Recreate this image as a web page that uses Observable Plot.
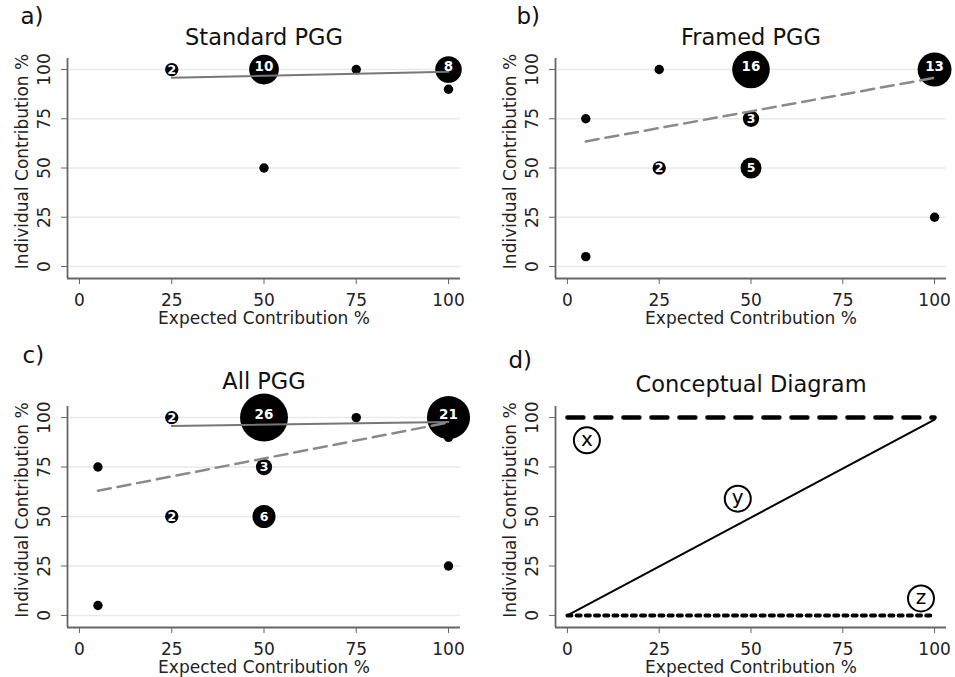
<!DOCTYPE html>
<html>
<head>
<meta charset="utf-8">
<script src="https://cdn.jsdelivr.net/npm/d3@7"></script>
<script src="https://cdn.jsdelivr.net/npm/@observablehq/plot@0.6"></script>
<style>
  html, body { margin: 0; padding: 0; background: #fff; }
  #wrap { position: relative; width: 955px; height: 677px; }
  #wrap > div { position: absolute; }
</style>
</head>
<body>
<div id="wrap">
  <div id="pa" style="left:0px;top:0px"></div>
  <div id="pb" style="left:478px;top:0px"></div>
  <div id="pc" style="left:0px;top:338px"></div>
  <div id="pd" style="left:478px;top:338px"></div>
</div>
<script>
// ---- data ----
const xTicks = [0, 25, 50, 75, 100];
const yTicks = [0, 25, 50, 75, 100];
const xLabel = "Expected Contribution %";
const yLabel = "Individual Contribution %";

// a) Standard PGG
const stdX = [25, 50, 75, 100, 100, 50];
const stdY = [100, 100, 100, 100, 90, 50];
const stdN = [2, 10, 1, 8, 1, 1];
const stdFitX = [25, 100];
const stdFitY = [95.8, 98.9];

// b) Framed PGG
const frmX = [5, 5, 25, 25, 50, 50, 50, 100, 100];
const frmY = [75, 5, 100, 50, 100, 75, 50, 100, 25];
const frmN = [1, 1, 1, 2, 16, 3, 5, 13, 1];
const frmFitX = [5, 100];
const frmFitY = [63.5, 95.8];

// c) All PGG
const allX = [5, 5, 25, 25, 50, 50, 50, 75, 100, 100, 100];
const allY = [75, 5, 100, 50, 100, 75, 50, 100, 100, 90, 25];
const allN = [1, 1, 2, 2, 26, 3, 6, 1, 21, 1, 1];
const allStdFitX = [25, 100];
const allStdFitY = [95.8, 97.8];
const allFrmFitX = [5, 100];
const allFrmFitY = [63, 97.5];

// d) Conceptual Diagram
const conceptX = [0, 100];
const lineXY = [100, 100];
const lineYY = [0, 99];
const lineZY = [0, 0];
const markerText = ["x", "y", "z"];
const markerX = [5.3, 46.4, 96.3];
const markerY = [88.5, 59, 8.6];

// ---- drawing ----
const FONT = "DejaVu Sans";
const XD = [-3.25, 103.25];
const YD = [-6.1, 105.6];
const C = {textAnchor: "middle", lineAnchor: "middle"};

function basePlot(o) {
  const marks = [];
  if (o.grid) marks.push(Plot.ruleY(yTicks, {stroke: "#e9e9e9", strokeWidth: 1.5}));
  marks.push(...o.marks);
  marks.push(
    Plot.ruleX([XD[0]], {stroke: "#666", strokeWidth: 1.8}),
    Plot.ruleY([YD[0]], {stroke: "#666", strokeWidth: 1.8}),
    Plot.axisX({ticks: xTicks, tickSize: 6, tickPadding: 9, fontSize: 17, label: null, stroke: "#666", fill: "#222"}),
    Plot.axisY({ticks: yTicks, tickSize: 6, tickPadding: 12, tickRotate: -90, fontSize: 17, label: null, stroke: "#666", fill: "#222"}),
    Plot.text([xLabel], {...C, frameAnchor: "bottom", dy: 40, fontSize: 17, fill: "#222"}),
    Plot.text([yLabel], {...C, frameAnchor: "left", dx: -45, dy: -7, rotate: -90, fontSize: 17, fill: "#222"}),
    Plot.text([o.title], {...C, frameAnchor: "top", dy: o.titleDy, fontSize: 22.5, fill: "#111"}),
    Plot.text([o.letter], {frameAnchor: "top-left", textAnchor: "start", lineAnchor: "middle", dx: o.letterDx, dy: o.letterDy, fontSize: 23, fill: "#111"})
  );
  return Plot.plot({
    width: 477, height: o.h,
    marginLeft: o.ml, marginRight: o.mr, marginTop: o.mt, marginBottom: o.mb,
    style: {fontFamily: FONT, background: "white", overflow: "visible"},
    x: {domain: XD},
    y: {domain: YD},
    r: {type: "sqrt", domain: [0, 25], range: [0, 23.5]},
    marks
  });
}

function bubbles(X, Y, N) {
  return [
    Plot.dot(N, {x: X, y: Y, r: N, fill: "#000", stroke: "none"}),
  ];
}
function bubbleLabels(X, Y, N) {
  return [
    Plot.text(N, {x: X, y: Y, text: d => d >= 8 ? String(d) : null, fill: "#fff", fontWeight: "bold", fontSize: 13.5, dy: -3}),
    Plot.text(N, {x: X, y: Y, text: d => d > 1 && d < 8 ? String(d) : null, fill: "#fff", fontWeight: "bold", fontSize: 12.5, dy: 0})
  ];
}

document.getElementById("pa").append(basePlot({
  h: 338, ml: 67, mr: 17, mt: 58, mb: 60, grid: true,
  title: "Standard PGG", titleDy: -21, letter: "a)", letterDx: -47, letterDy: -42,
  marks: [
    ...bubbles(stdX, stdY, stdN),
    Plot.line(stdFitY, {x: stdFitX, y: stdFitY, stroke: "#777", strokeWidth: 2}),
    ...bubbleLabels(stdX, stdY, stdN)
  ]
}));

document.getElementById("pb").append(basePlot({
  h: 338, ml: 77, mr: 9, mt: 58, mb: 60, grid: true,
  title: "Framed PGG", titleDy: -21, letter: "b)", letterDx: -39, letterDy: -42,
  marks: [
    ...bubbles(frmX, frmY, frmN),
    Plot.line(frmFitY, {x: frmFitX, y: frmFitY, stroke: "#8a8a8a", strokeWidth: 2.5, strokeDasharray: "13,7"}),
    ...bubbleLabels(frmX, frmY, frmN)
  ]
}));

document.getElementById("pc").append(basePlot({
  h: 339, ml: 67, mr: 17, mt: 68, mb: 50, grid: true,
  title: "All PGG", titleDy: -25, letter: "c)", letterDx: -45, letterDy: -51,
  marks: [
    ...bubbles(allX, allY, allN),
    Plot.line(allStdFitY, {x: allStdFitX, y: allStdFitY, stroke: "#777", strokeWidth: 2}),
    Plot.line(allFrmFitY, {x: allFrmFitX, y: allFrmFitY, stroke: "#8a8a8a", strokeWidth: 2.5, strokeDasharray: "13,7"}),
    ...bubbleLabels(allX, allY, allN)
  ]
}));

document.getElementById("pd").append(basePlot({
  h: 339, ml: 77, mr: 9, mt: 68, mb: 50, grid: false,
  title: "Conceptual Diagram", titleDy: -22, letter: "d)", letterDx: -47, letterDy: -46,
  marks: [
    Plot.line(lineXY, {x: conceptX, y: lineXY, stroke: "#000", strokeWidth: 4.5, strokeDasharray: "16,12"}),
    Plot.line(lineYY, {x: conceptX, y: lineYY, stroke: "#000", strokeWidth: 2}),
    Plot.line(lineZY, {x: conceptX, y: lineZY, stroke: "#000", strokeWidth: 4, strokeDasharray: "4,5.2"}),
    Plot.dot(markerText, {x: markerX, y: markerY, r: 13, fill: "#fff", stroke: "#000", strokeWidth: 2}),
    Plot.text(markerText, {x: markerX, y: markerY, text: d => d, fontSize: 20, fill: "#000", dy: -1})
  ]
}));
</script>
</body>
</html>
